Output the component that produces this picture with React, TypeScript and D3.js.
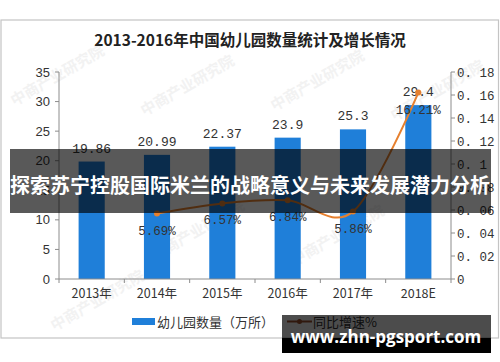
import React from "react";
import * as d3 from "d3";

const categories = ["2013年", "2014年", "2015年", "2016年", "2017年", "2018E"];
const counts = [19.86, 20.99, 22.37, 23.9, 25.3, 29.4];
const growthCats = ["2014年", "2015年", "2016年", "2017年", "2018E"];
const growth = [0.0569, 0.0657, 0.0684, 0.0586, 0.1621];
const growthLabels = ["5.69%", "6.57%", "6.84%", "5.86%", "16.21%"];
const leftTicks = [0, 5, 10, 15, 20, 25, 30, 35];
const rightTicks = [0, 0.02, 0.04, 0.06, 0.08, 0.1, 0.12, 0.14, 0.16, 0.18];
const rightTickLabels = ["0", "0. 02", "0. 04", "0. 06", "0. 08", "0. 1", "0. 12", "0. 14", "0. 16", "0. 18"];

const title = "2013-2016年中国幼儿园数量统计及增长情况";
const legendBar = "幼儿园数量（万所）";
const legendLine = "同比增速%";
const banner = "探索苏宁控股国际米兰的战略意义与未来发展潜力分析";
const site = "www.zhn-pgsport.com";

export default function App() {
  const W = 500, H = 362;
  const left = 59, right = 451, top = 72, bottom = 279;
  const x = d3.scaleBand().domain(categories).range([left, right]).paddingInner(0.6).paddingOuter(0.3);
  const xb = d3.scaleBand().domain(categories).range([left, right]);
  const yL = d3.scaleLinear().domain([0, 35]).range([bottom, top]);
  const yR = d3.scaleLinear().domain([0, 0.18]).range([bottom, top]);
  const cx = (c: string) => (xb(c) as number) + xb.bandwidth() / 2;
  const pts: [number, number][] = growthCats.map((c, i) => [cx(c), yR(growth[i])]);
  const line = d3.line().curve(d3.curveCatmullRom.alpha(0))(pts) as string;
  const mono = "'Liberation Mono', 'DejaVu Sans Mono', monospace";
  const sans = "'Liberation Sans', Arial, sans-serif";
  const cjk = "'Noto Sans CJK SC', sans-serif";
  const axisColor = "#8c8c8c";
  const blue = "#1f7fd9";
  const orange = "#e6802f";
  const wm = [
    [60, 80], [190, 90], [320, 85], [440, 95], [200, 235], [340, 240], [100, 305]
  ];

  return (
    <svg width={W} height={H} style={{ position: "absolute", left: 0, top: 0, background: "#fff" }}>
      <rect x={0} y={0} width={W} height={H} fill="#fff" />
      <rect x={1} y={20} width={497.5} height={318} fill="#fff" stroke="#c4c4c4" strokeWidth={1.2} />
      {wm.map(([wx, wy], i) => (
        <text key={i} x={wx} y={wy} transform={`rotate(-30 ${wx} ${wy})`} fontFamily={cjk} fontSize={15} fontWeight="bold" fill="#f2f2f2" textAnchor="middle">
          中商产业研究院
        </text>
      ))}
      <text x={250} y={46} textAnchor="middle" fontFamily={cjk} fontWeight="bold" fontSize={15.5} fill="#222">
        {title}
      </text>
      {categories.map((c, i) => (
        <rect key={c} x={x(c)} y={yL(counts[i])} width={x.bandwidth()} height={bottom - yL(counts[i])} fill={blue} />
      ))}
      <line x1={left} x2={left} y1={top} y2={bottom} stroke={axisColor} />
      {leftTicks.map((t) => (
        <g key={t}>
          <line x1={left - 4} x2={left} y1={yL(t)} y2={yL(t)} stroke={axisColor} />
          <text x={left - 9} y={yL(t) + 4.5} textAnchor="end" fontFamily={sans} fontSize={13} fill="#333">{t}</text>
        </g>
      ))}
      <line x1={right} x2={right} y1={top} y2={bottom} stroke={axisColor} />
      {rightTicks.map((t, i) => (
        <g key={t}>
          <line x1={right} x2={right + 4} y1={yR(t)} y2={yR(t)} stroke={axisColor} />
          <text x={right + 6} y={yR(t) + 4.5} textAnchor="start" fontFamily={mono} fontSize={12.5} fill="#333">{rightTickLabels[i]}</text>
        </g>
      ))}
      <line x1={left} x2={right} y1={bottom} y2={bottom} stroke={axisColor} />
      {categories.map((c) => (
        <line key={c} x1={xb(c)} x2={xb(c)} y1={bottom} y2={bottom + 4} stroke={axisColor} />
      ))}
      <line x1={right} x2={right} y1={bottom} y2={bottom + 4} stroke={axisColor} />
      {categories.map((c) => (
        <text key={c} x={cx(c)} y={298} textAnchor="middle" fontFamily={cjk} fontSize={12.5} fill="#333">{c}</text>
      ))}
      {categories.map((c, i) => (
        <text key={c} x={cx(c)} y={yL(counts[i]) - 9} textAnchor="middle" fontFamily={mono} fontSize={13} fill="#333">{String(counts[i])}</text>
      ))}
      <path d={line} fill="none" stroke={orange} strokeWidth={2} />
      {pts.map(([px, py], i) => (
        <circle key={i} cx={px} cy={py} r={3} fill={orange} />
      ))}
      {growthCats.map((c, i) => (
        <text key={c} x={cx(c)} y={yR(growth[i]) + 21} textAnchor="middle" fontFamily={mono} fontSize={12.5} fill="#333">{growthLabels[i]}</text>
      ))}
      <rect x={132} y={318} width={23} height={7} fill={blue} />
      <text x={157} y={327} fontFamily={cjk} fontSize={13} fill="#333">{legendBar}</text>
      <line x1={287} x2={312} y1={321.5} y2={321.5} stroke="#a0522d" strokeWidth={2} />
      <circle cx={299.5} cy={321.5} r={2.5} fill="#a0522d" />
      <text x={313} y={327} fontFamily={cjk} fontSize={13} fill="#333">{legendLine}</text>
      <rect x={10} y={149} width={481} height={64} fill="#000" opacity={0.65} />
      <text x={250} y={193} textAnchor="middle" fontFamily={cjk} fontWeight="bold" fontSize={20} fill="#fff">{banner}</text>
      <rect x={282} y={315} width={209} height={23} fill="#000" opacity={0.7} />
      <rect x={282} y={338} width={209} height={15} fill="#000" />
      <text x={386} y={343} textAnchor="middle" fontFamily="'Open Sans', 'Noto Sans', sans-serif" fontWeight="bold" fontSize={17} fill="#fff">{site}</text>
    </svg>
  );
}
